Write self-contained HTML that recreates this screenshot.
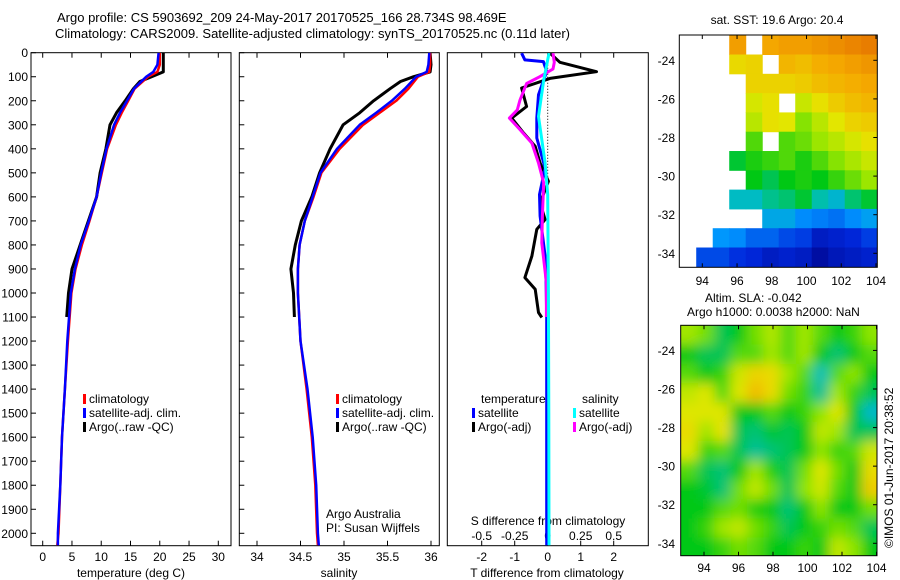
<!DOCTYPE html>
<html><head><meta charset="utf-8">
<style>
html,body{margin:0;padding:0;background:#fff;}
svg{display:block;font-family:"Liberation Sans",sans-serif;}
text{fill:#000;}
</style></head>
<body>
<svg id="fig" width="900" height="580" viewBox="0 0 900 580" xmlns="http://www.w3.org/2000/svg">
<defs>
<clipPath id="c1"><rect x="31" y="52.7" width="200" height="493"/></clipPath>
<clipPath id="c2"><rect x="239.3" y="52.7" width="200" height="493"/></clipPath>
<clipPath id="c3"><rect x="447.3" y="52.7" width="201" height="493"/></clipPath>
<clipPath id="cm1"><rect x="679.3" y="35" width="198" height="232.3"/></clipPath>
<clipPath id="cm2"><rect x="680.7" y="325.3" width="196.3" height="230.4"/></clipPath>
<filter id="blur" x="-5%" y="-5%" width="110%" height="110%"><feGaussianBlur stdDeviation="6"/></filter>
</defs>
<text x="57" y="22" font-size="13">Argo profile: CS 5903692_209 24-May-2017 20170525_166 28.734S 98.469E</text>
<text x="55" y="38" font-size="13">Climatology: CARS2009. Satellite-adjusted climatology: synTS_20170525.nc (0.11d later)</text>
<g id="g1"></g>
<g id="g2"></g>
<g id="g3"></g>
<g id="gm1"></g>
<g id="gm2"></g>
<text transform="translate(893,548) rotate(-90)" font-size="12">©IMOS 01-Jun-2017 20:38:52</text>
</svg>
<script>
// ---- data ----
const climDepth = [0,50,80,100,150,200,250,300,400,500,600,700,800,900,1000,1200,1400,1600,1800,2000,2050];
const climTemp  = [20.0,20.0,19.6,18.0,15.7,14.6,13.5,12.5,11.0,10.1,9.2,8.0,6.7,5.6,4.9,4.3,3.8,3.3,3.0,2.7,2.5];
const satTemp   = [19.8,19.6,18.9,17.7,15.6,14.4,13.2,12.2,10.9,10.0,9.2,7.9,6.5,5.5,4.8,4.2,3.8,3.3,3.0,2.6,2.6];
const climSal   = [35.99,35.99,35.98,35.85,35.74,35.60,35.41,35.22,34.95,34.74,34.65,34.55,34.49,34.47,34.47,34.50,34.57,34.63,34.67,34.69,34.70];
const satSal    = [35.98,35.97,35.95,35.83,35.70,35.55,35.37,35.18,34.92,34.73,34.64,34.55,34.49,34.47,34.47,34.50,34.58,34.64,34.68,34.70,34.71];
const argoDepth = [0,50,80,100,120,150,200,250,300,400,500,600,700,800,900,1000,1100];
const argoTemp  = [20.6,20.6,20.6,18.6,16.6,15.5,14.1,12.6,11.5,10.8,9.8,9.2,7.8,6.4,5.0,4.4,4.1];
const argoSal   = [35.99,36.0,35.99,35.8,35.65,35.53,35.34,35.18,34.99,34.84,34.72,34.63,34.51,34.44,34.39,34.42,34.43];

const dTArgoDepth = [2,40,79,107,147,224,272,334,390,459,535,625,694,735,846,936,984,1081,1102];
const dTArgo      = [0.07,0.37,1.48,0.07,-0.79,-0.64,-1.09,-0.73,-0.38,-0.23,0.02,-0.23,-0.08,-0.33,-0.48,-0.69,-0.38,-0.28,-0.18];
const dTSatDepth  = [2,30,37,78,175,272,355,480,590,680,846,957,1100,1500,2050];
const dTSat       = [-0.79,-0.69,-0.13,-0.03,-0.28,-0.33,-0.33,-0.08,-0.25,-0.23,-0.08,-0.05,-0.03,-0.03,-0.03];
const dSArgoDepth = [2,40,68,100,128,197,238,272,320,376,459,542,680,791,957,1100];
const dSArgo      = [0.04,0.05,0.04,-0.06,-0.16,-0.21,-0.23,-0.29,-0.21,-0.12,-0.07,-0.03,-0.04,-0.045,-0.01,-0.01];
const dSSatDepth  = [2,114,265,459,590,1000,1500,2050];
const dSSat       = [0.01,-0.03,-0.07,-0.02,0.0,0.005,0.008,0.01];

const depthTicks = [0,100,200,300,400,500,600,700,800,900,1000,1100,1200,1300,1400,1500,1600,1700,1800,1900,2000];
const tempTicks = [0,5,10,15,20,25,30];
const salTicks = [34,34.5,35,35.5,36];
const salTickLabels = ["34","34.5","35","35.5","36"];
const dTTicks = [-2,-1,0,1,2];
const dSTicks = [-0.5,-0.25,0,0.25,0.5];
const dSTickLabels = ["-0.5","-0.25","0","0.25","0.5"];

const lonTicks = [94,96,98,100,102,104];
const latTicks = [-24,-26,-28,-30,-32,-34];
const N = null;
const sstGrid = [
 [N,N,N,20.6,N,20.5,20.6,20.6,20.7,20.8,20.9,21.0],
 [N,N,N,19.8,19.9,N,20.3,20.2,20.4,20.5,20.6,20.7],
 [N,N,N,N,19.9,19.9,19.9,20.0,20.2,20.3,20.4,20.5],
 [N,N,N,N,19.5,19.7,N,19.4,19.7,20.0,20.2,20.3],
 [N,N,N,N,19.3,19.7,19.6,19.0,19.3,19.6,19.9,20.0],
 [N,N,N,N,18.8,N,18.8,18.9,19.1,19.3,19.5,19.7],
 [N,N,N,18.4,18.6,18.7,18.8,18.6,18.8,19.0,19.2,19.4],
 [N,N,N,N,18.5,18.3,18.5,18.6,18.5,18.7,18.9,19.1],
 [N,N,N,17.9,17.9,18.1,18.2,18.4,18.0,17.8,18.2,18.4],
 [N,N,N,N,N,17.6,17.6,17.3,17.2,17.1,17.3,17.5],
 [N,N,17.4,17.3,17.0,17.0,16.8,16.7,16.3,16.4,16.5,16.7],
 [N,16.8,16.8,16.6,16.5,16.3,16.4,16.3,16.0,16.2,16.3,16.4]
];
const slaGrid = [
 [0.06,0.04,-0.02,0.0,0.04,0.07,0.03,0.06,0.03,0.0,0.02,0.05],
 [0.0,-0.02,-0.02,0.03,0.03,0.06,0.03,0.06,0.0,-0.03,0.0,0.03],
 [0.03,0.0,0.02,0.09,0.13,0.12,0.06,0.03,-0.05,0.03,0.05,0.0],
 [0.08,0.10,0.03,0.10,0.16,0.12,0.04,0.02,-0.04,0.06,0.02,-0.02],
 [0.10,0.10,0.10,0.0,0.0,0.03,0.0,0.02,0.05,0.10,0.0,-0.06],
 [0.12,0.06,0.11,-0.02,-0.03,-0.01,-0.02,0.0,0.08,0.06,-0.02,-0.02],
 [0.10,0.02,0.03,-0.02,-0.04,-0.03,-0.02,0.0,0.05,0.02,0.03,0.09],
 [0.03,-0.02,-0.03,0.0,0.06,0.01,-0.02,0.04,0.10,0.04,0.0,0.12],
 [0.0,-0.01,-0.03,0.04,0.08,0.04,-0.02,0.05,0.09,0.03,0.0,0.14],
 [0.0,0.0,0.03,0.04,0.01,0.0,-0.03,0.0,0.05,0.0,0.0,0.04],
 [0.0,0.02,0.06,0.08,0.04,0.02,-0.02,0.0,0.02,0.04,0.03,-0.02],
 [0.0,0.0,0.02,0.04,0.03,0.0,0.0,0.02,0.0,0.08,0.05,0.0]
];

// ---- helpers ----
const NS="http://www.w3.org/2000/svg";
function mk(parent, tag, attrs, name){
  const e=document.createElementNS(NS,tag);
  for(const k in attrs) e.setAttribute(k,attrs[k]);
  
  
  parent.appendChild(e); return e;
}
function txt(parent,x,y,s,size,anchor,name){
  const t=mk(parent,'text',{x:x,y:y,'font-size':size,'text-anchor':anchor||'start'},name);
  t.textContent=s; return t;
}
function lin(d0,d1,r0,r1){return v=>r0+(v-d0)*(r1-r0)/(d1-d0);}
const yD = lin(0,2000,52.7,533.3);
const cmapStops=[[0,0,0,130],[0.15,0,40,220],[0.3,0,150,255],[0.4,0,190,190],[0.5,0,200,20],[0.6,150,230,0],[0.7,230,230,0],[0.85,245,170,0],[1,225,100,0]];
function cmap(t){
  t=Math.max(0,Math.min(1,t));
  for(let i=1;i<cmapStops.length;i++){
    const a=cmapStops[i-1], b=cmapStops[i];
    if(t<=b[0]){
      const f=(t-a[0])/(b[0]-a[0]);
      return `rgb(${Math.round(a[1]+f*(b[1]-a[1]))},${Math.round(a[2]+f*(b[2]-a[2]))},${Math.round(a[3]+f*(b[3]-a[3]))})`;
    }
  }
  return 'rgb(225,100,0)';
}
function profile(g,xs,vals,depths,color,w,clip,name){
  const pts=vals.map((v,i)=>xs(v).toFixed(1)+','+yD(depths[i]).toFixed(1)).join(' ');
  mk(g,'polyline',{points:pts,fill:'none',stroke:color,'stroke-width':w,'clip-path':'url(#'+clip+')','stroke-linejoin':'round'},name);
}
function box(g,x0,y0,x1,y1,name){
  mk(g,'rect',{x:x0,y:y0,width:x1-x0,height:y1-y0,fill:'none',stroke:'#000','stroke-width':1},name);
}
function depthAxis(g,x0,x1,labels){
  depthTicks.forEach(d=>{
    const y=yD(d);
    mk(g,'line',{x1:x0,y1:y,x2:x0+5,y2:y,stroke:'#000'},'y-tick');
    if(labels){txt(g,28,y+4.5,String(d),12,'end','y-tick-label');}
  });
}
function xAxis(g,xs,ticks,labels,yTop,yBot,labY){
  ticks.forEach((v,i)=>{
    const x=xs(v);
    mk(g,'line',{x1:x,y1:yBot,x2:x,y2:yBot-5,stroke:'#000'},'x-tick');
    mk(g,'line',{x1:x,y1:yTop,x2:x,y2:yTop+5,stroke:'#000'},'x-tick-top');
    txt(g,x,labY,labels[i],12,'middle','x-tick-label');
  });
}
function legendEntry(g,x,y,color,label){
  mk(g,'rect',{x:x,y:y-9,width:3,height:10,fill:color},'legend-marker');
  txt(g,x+6,y,label,12,'start','legend-entry');
}

// ---- panel 1 temperature ----
const g1=document.getElementById('g1');
const xT=lin(0,30,42.7,218.3);
box(g1,31,52.7,231,545.7,'temperature-axes');
depthAxis(g1,31,231,true);
xAxis(g1,xT,tempTicks,tempTicks.map(String),52.7,545.7,561);
txt(g1,131,577,'temperature (deg C)',12,'middle','x-axis-title');
profile(g1,xT,argoTemp,argoDepth,'#000',3,'c1','argo-temperature-line');
profile(g1,xT,climTemp,climDepth,'#f00',2.5,'c1','climatology-temperature-line');
profile(g1,xT,satTemp,climDepth,'#00f',2.5,'c1','satellite-temperature-line');
legendEntry(g1,83,403,'#f00','climatology');
legendEntry(g1,83,417,'#00f','satellite-adj. clim.');
legendEntry(g1,83,431,'#000','Argo(..raw -QC)');

// ---- panel 2 salinity ----
const g2=document.getElementById('g2');
const xS=lin(34,36,257,431);
box(g2,239.3,52.7,439.3,545.7,'salinity-axes');
depthAxis(g2,239.3,439.3,false);
xAxis(g2,xS,salTicks,salTickLabels,52.7,545.7,561);
txt(g2,339,577,'salinity',12,'middle','x-axis-title');
profile(g2,xS,argoSal,argoDepth,'#000',3,'c2','argo-salinity-line');
profile(g2,xS,climSal,climDepth,'#f00',2.5,'c2','climatology-salinity-line');
profile(g2,xS,satSal,climDepth,'#00f',2.5,'c2','satellite-salinity-line');
legendEntry(g2,336,403,'#f00','climatology');
legendEntry(g2,336,417,'#00f','satellite-adj. clim.');
legendEntry(g2,336,431,'#000','Argo(..raw -QC)');
txt(g2,326,518,'Argo Australia',12,'start','credit-text');
txt(g2,326,532,'PI: Susan Wijffels',12,'start','credit-text');

// ---- panel 3 differences ----
const g3=document.getElementById('g3');
const xDT=lin(0,1,547.7,580.7);
const xDS=lin(0,0.25,547.7,580.7);
box(g3,447.3,52.7,648.3,545.7,'difference-axes');
xAxis(g3,xDT,dTTicks,dTTicks.map(String),52.7,545.7,561);
mk(g3,'line',{x1:xDT(0),y1:52.7,x2:xDT(0),y2:yD(520),stroke:'#000','stroke-dasharray':'1,2'},'zero-line');
txt(g3,547,577,'T difference from climatology',12,'middle','x-axis-title');
txt(g3,548,525,'S difference from climatology',12,'middle','s-axis-title');
dSTicks.forEach((v,i)=>{txt(g3,xDS(v),540,dSTickLabels[i],12,'middle','s-tick-label');});
profile(g3,xDT,dTArgo,dTArgoDepth,'#000',3,'c3','argo-t-diff-line');
profile(g3,xDT,dTSat,dTSatDepth,'#00f',3,'c3','satellite-t-diff-line');
profile(g3,xDS,dSArgo,dSArgoDepth,'#f0f',3,'c3','argo-s-diff-line');
profile(g3,xDS,dSSat,dSSatDepth,'#0ff',3,'c3','satellite-s-diff-line');
txt(g3,481,403,'temperature',12,'start','legend-title');
txt(g3,582,403,'salinity',12,'start','legend-title');
legendEntry(g3,472,417,'#00f','satellite');
legendEntry(g3,472,431,'#000','Argo(-adj)');
legendEntry(g3,573,417,'#0ff','satellite');
legendEntry(g3,573,431,'#f0f','Argo(-adj)');

// ---- maps ----
function mapAxes(g,x0,y0,x1,y1,xs,ys,labBottom){
  mk(g,'rect',{x:x0,y:y0,width:x1-x0,height:y1-y0,fill:'none',stroke:'#000'},'map-frame');
  lonTicks.forEach(v=>{
    const x=xs(v);
    mk(g,'line',{x1:x,y1:y0,x2:x,y2:y0+4,stroke:'#000'},'lon-tick');
    mk(g,'line',{x1:x,y1:y1,x2:x,y2:y1-4,stroke:'#000'},'lon-tick');
    txt(g,x,labBottom,String(v),12,'middle','lon-tick-label');
  });
  latTicks.forEach(v=>{
    const y=ys(v);
    mk(g,'line',{x1:x1,y1:y,x2:x1-4,y2:y,stroke:'#000'},'lat-tick');
    txt(g,675,y+4.5,String(v),12,'end','lat-tick-label');
  });
}
const gm1=document.getElementById('gm1');
const lon1=lin(94,104,702.3,876), lat1=lin(-24,-34,60.3,253.3);
const lonW=92.7, lonE=104.1, latN=-22.7;
const cg1=mk(gm1,'g',{'clip-path':'url(#cm1)'},'sst-cells');
sstGrid.forEach((row,r)=>row.forEach((v,c)=>{
  if(v===null) return;
  const la0=latN-r, la1=latN-(r+1);
  const lo0=lonW+(lonE-lonW)/12*c, lo1=lonW+(lonE-lonW)/12*(c+1);
  mk(cg1,'rect',{x:lon1(lo0),y:lat1(la0),width:lon1(lo1)-lon1(lo0)+0.5,height:lat1(la1)-lat1(la0)+0.5,fill:cmap((v-15.7)/5.6)},'sst-cell');
}));
mapAxes(gm1,679.3,35,877.3,267.3,lon1,lat1,285);
txt(gm1,777,24,'sat. SST: 19.6 Argo: 20.4',12,'middle','sst-map-title');
txt(gm1,705,302,'Altim. SLA: -0.042',12,'start','sla-map-title');
txt(gm1,687,316,'Argo h1000: 0.0038 h2000: NaN',12,'start','sla-map-subtitle');

const gm2=document.getElementById('gm2');
const lon2=lin(94,104,704,876.5), lat2=lin(-26,-34,389,543.3);
const cg2=mk(gm2,'g',{'clip-path':'url(#cm2)'},'sla-cells');
const cg2b=mk(cg2,'g',{filter:'url(#blur)'},'sla-cells-smooth');
slaGrid.forEach((row,r)=>row.forEach((v,c)=>{
  const la0=latN-r, la1=latN-(r+1);
  const lo0=lonW+(lonE-lonW)/12*c, lo1=lonW+(lonE-lonW)/12*(c+1);
  const x0=lon2(lo0)-(c===0?14:0), x1=lon2(lo1)+(c===11?14:0);
  const y0=lat2(la0)-(r===0?14:0), y1=lat2(la1)+(r===11?14:0);
  mk(cg2b,'rect',{x:x0,y:y0,width:x1-x0+0.5,height:y1-y0+0.5,fill:cmap(0.5+v*1.9)},'sla-cell');
}));
mapAxes(gm2,680.7,325.3,877,555.7,lon2,lat2,572);
</script>
</body></html>
